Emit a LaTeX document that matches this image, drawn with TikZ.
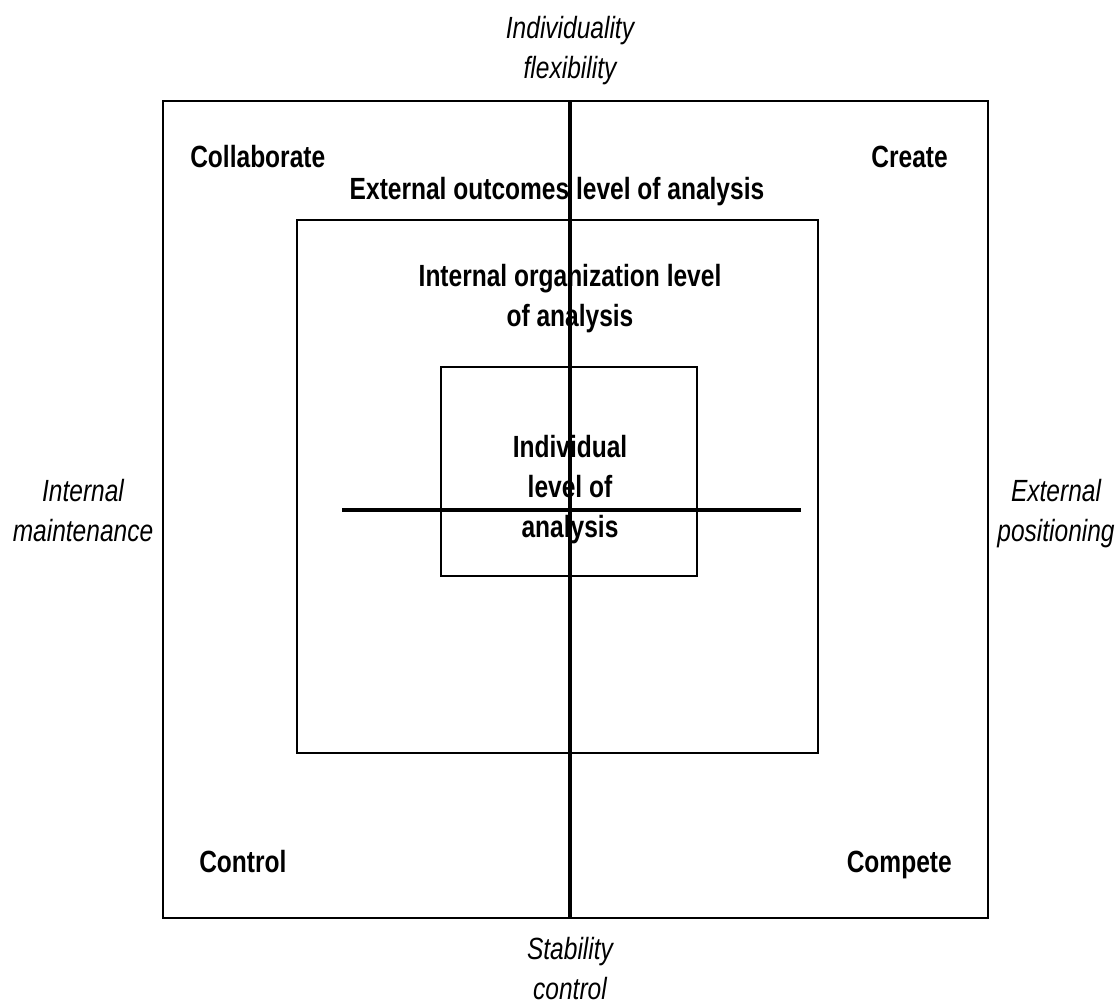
\documentclass[tikz,border=0pt]{standalone}
\usepackage{fontspec}
\setmainfont{Liberation Sans}[FakeStretch=0.8]
\begin{document}
\begin{tikzpicture}[x=0.75pt,y=-0.75pt,
  lbl/.style={inner sep=0pt,anchor=base,font=\fontsize{23}{30}\selectfont},
  quad/.style={lbl,font=\fontsize{23}{30}\selectfont\bfseries},
  axis/.style={lbl,font=\fontsize{23}{30}\selectfont\itshape},
  frame/.style={line width=2pt},
  level/.style={line width=1.6pt},
  vaxis/.style={line width=2.4pt},
  haxis/.style={line width=3pt}]
\renewcommand{\arraystretch}{1}
\setlength{\tabcolsep}{0pt}
\useasboundingbox (0,0) rectangle (1117,1005);

% nested levels of analysis
\draw[frame] (163,101) rectangle (988,918);
\draw[level] (297,220) rectangle (818,753);
\draw[level] (441,367) rectangle (697,576);

% axis labels
\node[axis] (flex) at (570,39) {\begin{tabular}[t]{c}Individuality\\flexibility\end{tabular}};
\node[axis] (stab) at (570,959) {\begin{tabular}[t]{c}Stability\\control\end{tabular}};
\node[axis] (intm) at (83,501) {\begin{tabular}[t]{c}Internal\\maintenance\end{tabular}};
\node[axis] (extp) at (1056,501) {\begin{tabular}[t]{c}External\\positioning\end{tabular}};

% quadrant names
\node[quad,anchor=base west] (collab) at (190,168) {Collaborate};
\node[quad,anchor=base east] (create) at (948,168) {Create};
\node[quad,anchor=base west] (control) at (199,872) {Control};
\node[quad,anchor=base east] (compete) at (952,872) {Compete};

% level titles
\node[quad] (ext) at (557,200) {External outcomes level of analysis};
\node[quad] (org) at (570,287) {\begin{tabular}[t]{c}Internal organization level\\of analysis\end{tabular}};
\node[quad] (ind) at (570,457) {\begin{tabular}[t]{c}Individual\\level of\\analysis\end{tabular}};

% crossing axes
\coordinate (top) at (570,101);
\coordinate (bot) at (570,918);
\coordinate (lft) at (342,510);
\coordinate (rgt) at (801,510);
\draw[vaxis] (top) -- (bot);
\draw[haxis] (lft) -- (rgt);
\end{tikzpicture}
\end{document}
